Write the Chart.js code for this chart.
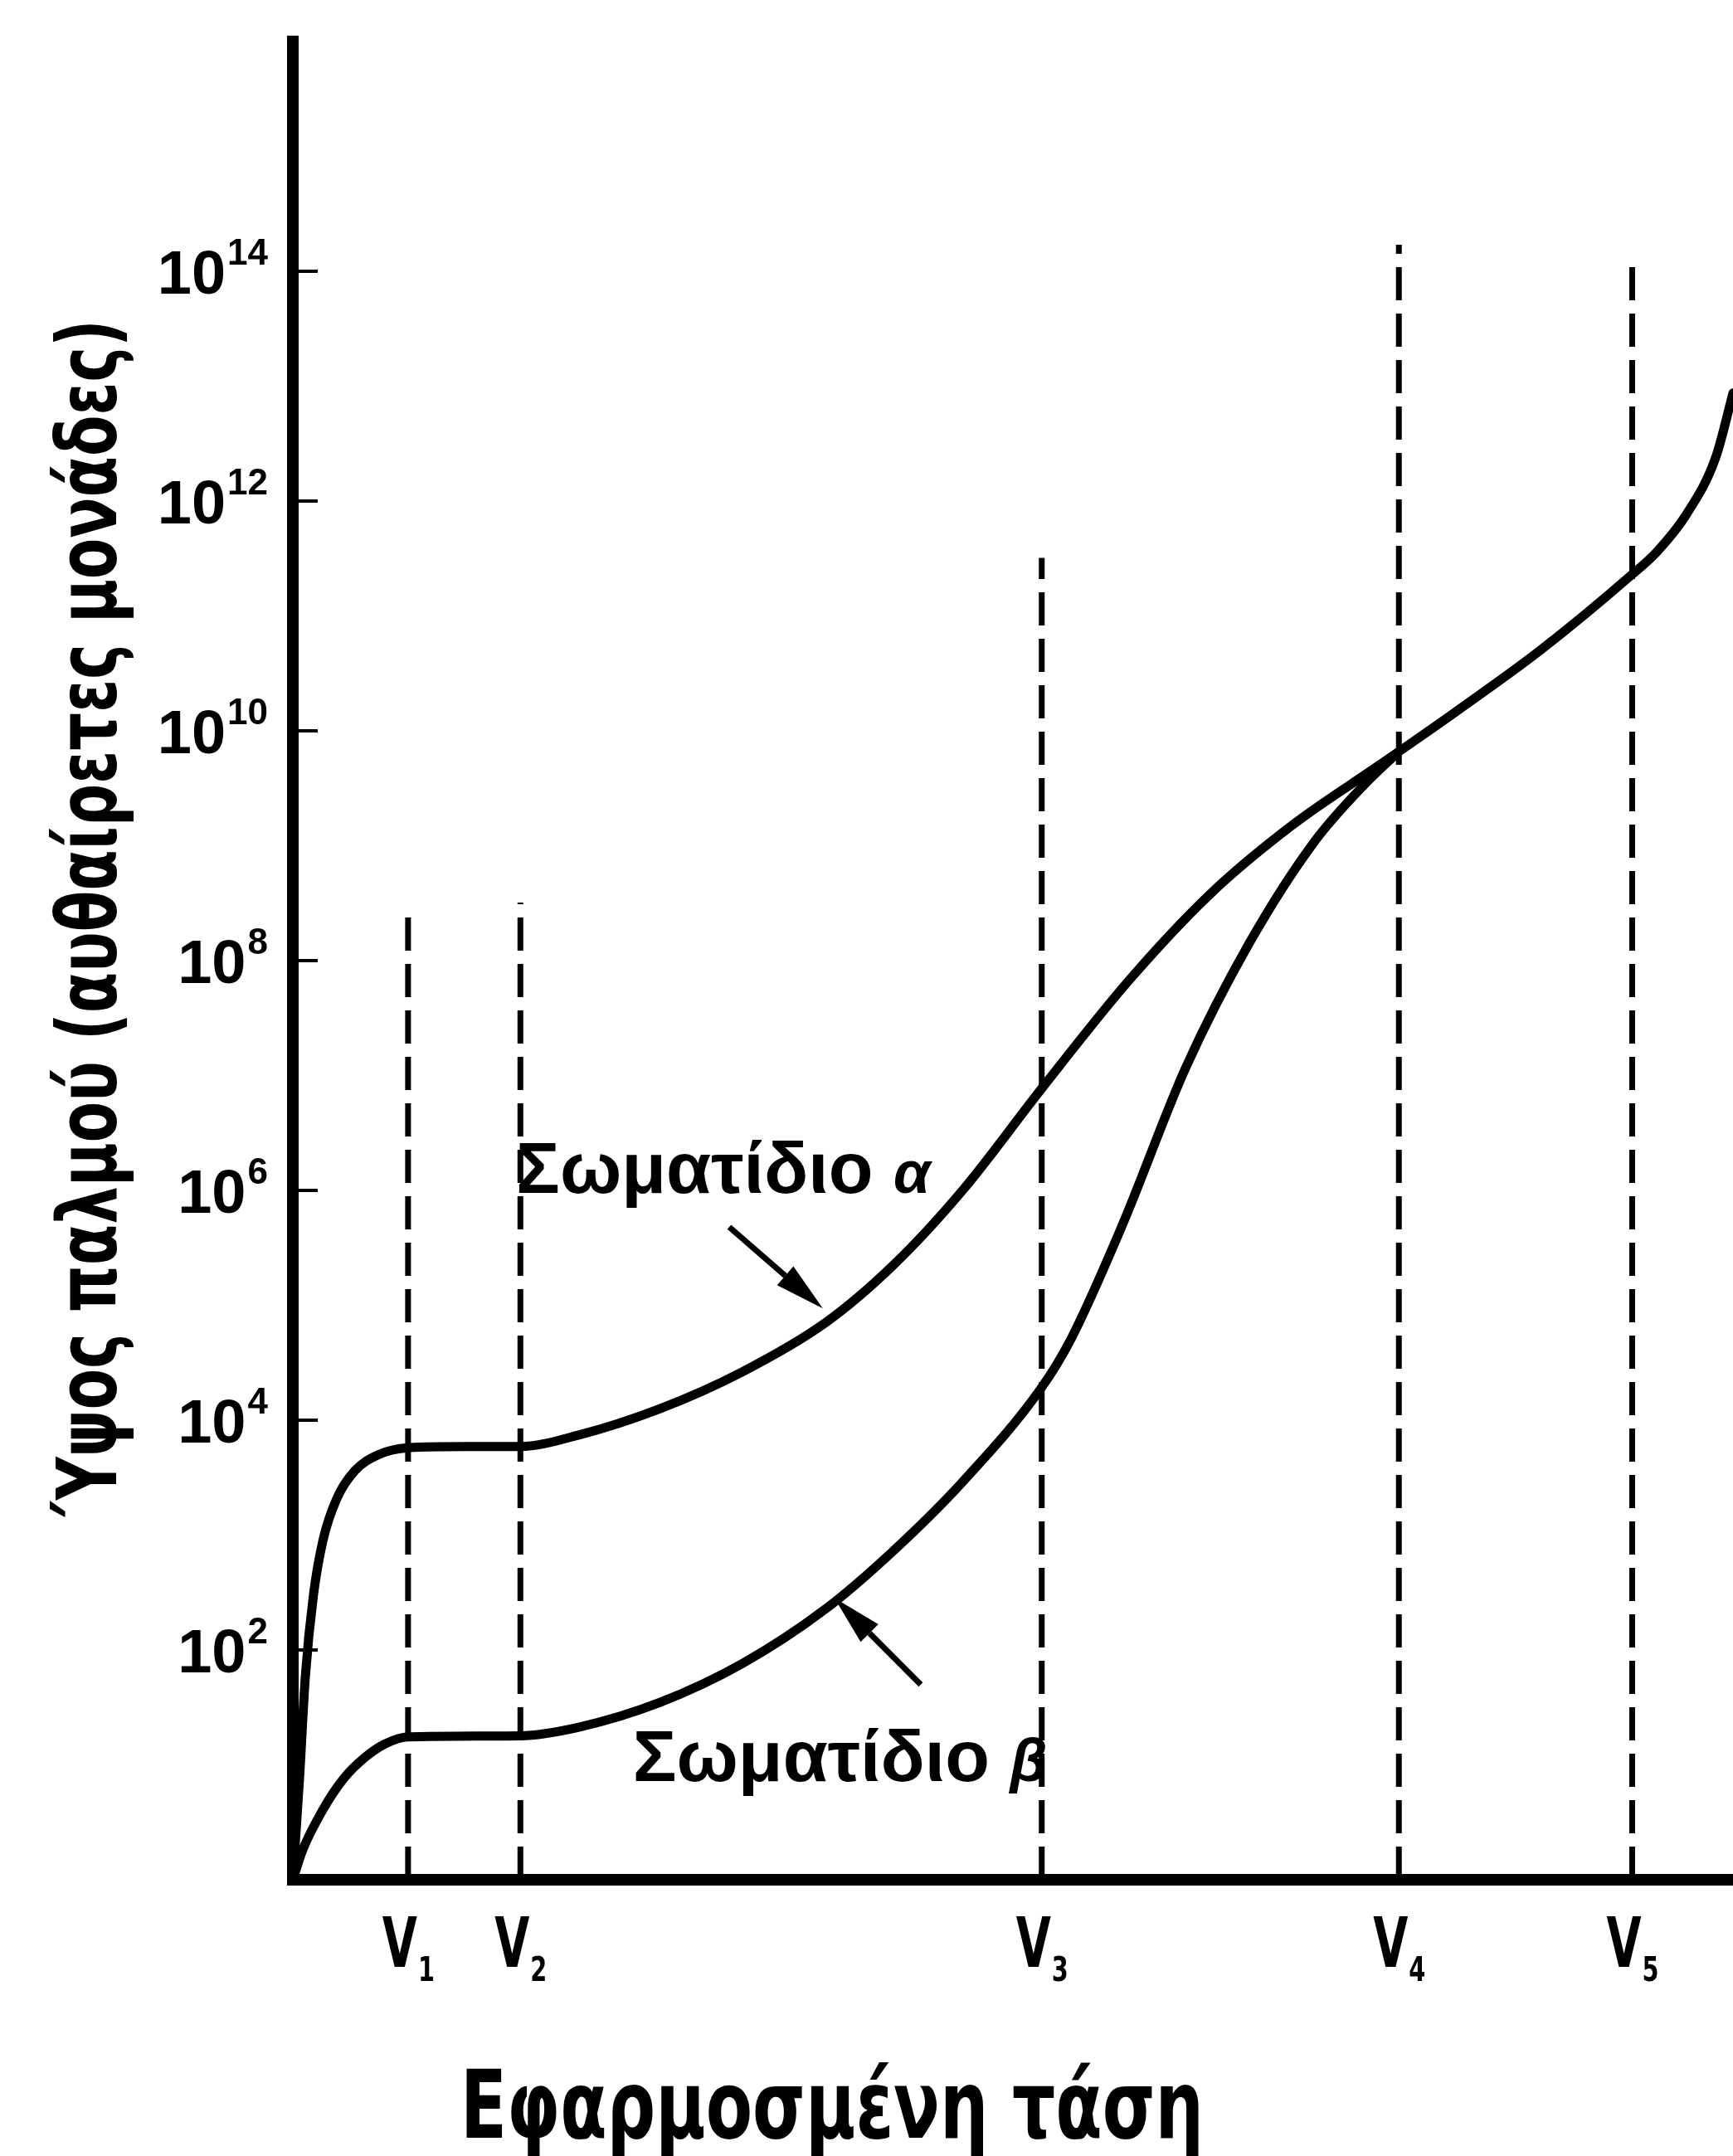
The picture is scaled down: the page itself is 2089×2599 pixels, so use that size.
<!DOCTYPE html>
<html>
<head>
<meta charset="utf-8">
<script src="https://cdn.jsdelivr.net/npm/chart.js@4.4.1/dist/chart.umd.min.js"></script>
<style>
  html, body { margin: 0; padding: 0; background: #fff; }
  #wrap { width: 2089px; height: 2599px; }
</style>
</head>
<body>
<div id="wrap"><canvas id="chart" width="2089" height="2599"></canvas></div>
<script>
// -- Data (x in arbitrary voltage units 0..100, y in arbitrary pulse units) --
const alphaX = [0, 0.48, 0.86, 1.43, 2.1, 3.06, 4.3, 5.92, 8.02, 12.1, 15.76, 19.8, 25.5, 31.2, 37.0, 41.7, 46.5, 51.96, 58.0, 63.7, 69.4, 75.2, 76.8, 80.9, 86.6, 93.0, 94.7, 96.75, 98.8, 100];
const alphaY = [1, 8.3, 57, 300, 910, 2090, 3630, 5000, 5760, 5900, 5900, 7400, 12600, 26300, 70800, 2.24e5, 1e6, 7.6e6, 6.6e7, 3.8e8, 1.51e9, 4.8e9, 6.6e9, 1.51e10, 5.0e10, 2.3e11, 3.6e11, 7.6e11, 2.4e12, 8.7e12];

const betaX = [0, 0.67, 2.1, 3.53, 4.97, 6.4, 8.02, 15.76, 19.8, 25.5, 31.2, 37.0, 41.7, 46.5, 51.96, 54.0, 57.6, 62.0, 66.4, 70.9, 74.4, 76.8];
const betaY = [1, 1.8, 4.1, 7.6, 11.5, 15.2, 17.5, 17.9, 21.2, 35, 76, 228, 730, 2900, 19000, 5e4, 5e5, 1.17e7, 1.41e8, 1.07e9, 3.4e9, 6.6e9];

const vSubs = ['1', '2', '3', '4', '5'];
const vPositions = [8.0, 15.8, 52.0, 76.8, 93.0];
const vLineTops = [3.0e8, 3.2e8, 3.2e11, 1.7e14, 1.26e14];

const yTickValues = [1e2, 1e4, 1e6, 1e8, 1e10, 1e12, 1e14];
const yTickExps = ['2', '4', '6', '8', '10', '12', '14'];

const alphaArrow = [{ x: 30.3, y: 4.8e5 }, { x: 36.8, y: 9.4e4 }];
const betaArrow = [{ x: 43.6, y: 50 }, { x: 37.6, y: 284 }];

const curveLabels = [
    { x: 15.5, y: 9.5e5, text: 'Σωματίδιο ', sym: 'α' },
    { x: 23.6, y: 7.2, text: 'Σωματίδιο ', sym: 'β' }
];

const yTitle = 'Ύψος παλμού (αυθαίρετες μονάδες)';
const xTitle = 'Εφαρμοσμένη τάση';

const FONT = '"Liberation Sans", Arial, sans-serif';
const NARROW = '"DejaVu Sans Condensed", "DejaVu Sans", sans-serif';

// -- Datasets --
const toPoints = (xs, ys) => xs.map((x, i) => ({ x: x, y: ys[i] }));

const curveStyle = {
    borderColor: '#000',
    borderWidth: 11,
    pointRadius: 0,
    fill: false,
    cubicInterpolationMode: 'monotone',
    borderCapStyle: 'round',
    borderJoinStyle: 'round'
};

const datasets = [
    Object.assign({ label: 'alpha', data: toPoints(alphaX, alphaY) }, curveStyle),
    Object.assign({ label: 'beta', data: toPoints(betaX, betaY) }, curveStyle)
];

vPositions.forEach((v, i) => {
    datasets.push({
        label: 'V' + vSubs[i],
        data: [{ x: v, y: 1 }, { x: v, y: vLineTops[i] }],
        borderColor: '#000',
        borderWidth: 7,
        borderDash: [40, 16],
        pointRadius: 0,
        fill: false
    });
});

// -- Drawing helpers --
function drawArrow(ctx, x1, y1, x2, y2) {
    const ang = Math.atan2(y2 - y1, x2 - x1);
    const headLen = 60, headW = 15;
    const bx = x2 - Math.cos(ang) * headLen;
    const by = y2 - Math.sin(ang) * headLen;
    ctx.beginPath();
    ctx.moveTo(x1, y1);
    ctx.lineTo(bx, by);
    ctx.lineWidth = 7;
    ctx.stroke();
    ctx.beginPath();
    ctx.moveTo(x2, y2);
    ctx.lineTo(bx + Math.sin(ang) * headW, by - Math.cos(ang) * headW);
    ctx.lineTo(bx - Math.sin(ang) * headW, by + Math.cos(ang) * headW);
    ctx.closePath();
    ctx.fill();
}

// text squeezed horizontally, anchored at x (align: 'left' | 'center')
function narrowText(ctx, text, x, y, sx, align) {
    const w = ctx.measureText(text).width * sx;
    ctx.save();
    ctx.translate(align === 'center' ? x - w / 2 : x, y);
    ctx.scale(sx, 1);
    ctx.textAlign = 'left';
    ctx.fillText(text, 0, 0);
    ctx.restore();
    return w;
}

const annotations = {
    id: 'annotations',
    afterDraw(chart) {
        const ctx = chart.ctx;
        const xs = chart.scales.x;
        const ys = chart.scales.y;
        const left = chart.chartArea.left;
        ctx.save();
        ctx.fillStyle = '#000';
        ctx.strokeStyle = '#000';
        ctx.textAlign = 'left';
        ctx.textBaseline = 'alphabetic';

        // y ticks (inward) and power-of-ten labels
        yTickValues.forEach((v, i) => {
            const py = ys.getPixelForValue(v);
            ctx.beginPath();
            ctx.moveTo(left, py);
            ctx.lineTo(left + 30, py);
            ctx.lineWidth = 4;
            ctx.stroke();

            ctx.font = 'bold 74px ' + FONT;
            const wb = ctx.measureText('10').width;
            ctx.font = 'bold 44px ' + FONT;
            const we = ctx.measureText(yTickExps[i]).width;
            const x0 = 323 - we - wb - 2;
            ctx.font = 'bold 74px ' + FONT;
            ctx.fillText('10', x0, py + 27);
            ctx.font = 'bold 44px ' + FONT;
            ctx.fillText(yTickExps[i], x0 + wb + 2, py - 8);
        });

        // V labels under the x axis
        vPositions.forEach((v, i) => {
            const px = xs.getPixelForValue(v);
            ctx.font = 'bold 84px ' + NARROW;
            const wv = ctx.measureText('V').width * 0.72;
            ctx.font = 'bold 40px ' + NARROW;
            const ws = ctx.measureText(vSubs[i]).width * 0.8;
            const x0 = px - (wv + ws) / 2;
            ctx.font = 'bold 84px ' + NARROW;
            narrowText(ctx, 'V', x0, 2371, 0.72, 'left');
            ctx.font = 'bold 40px ' + NARROW;
            narrowText(ctx, vSubs[i], x0 + wv + 1, 2388, 0.8, 'left');
        });

        // arrows
        [alphaArrow, betaArrow].forEach(a => {
            drawArrow(ctx,
                xs.getPixelForValue(a[0].x), ys.getPixelForValue(a[0].y),
                xs.getPixelForValue(a[1].x), ys.getPixelForValue(a[1].y));
        });

        // curve labels
        curveLabels.forEach(l => {
            const px = xs.getPixelForValue(l.x);
            const py = ys.getPixelForValue(l.y);
            ctx.font = 'bold 88px ' + FONT;
            ctx.fillText(l.text, px, py);
            const w = ctx.measureText(l.text).width;
            ctx.font = 'italic bold 72px ' + FONT;
            ctx.fillText(l.sym, px + w, py);
        });

        // axis titles
        ctx.font = 'bold 100px ' + NARROW;
        ctx.save();
        ctx.translate(140, 1106);
        ctx.rotate(-Math.PI / 2);
        narrowText(ctx, yTitle, 0, 0, 0.8, 'center');
        ctx.restore();

        ctx.font = 'bold 114px ' + NARROW;
        narrowText(ctx, xTitle, 1003, 2577, 0.8, 'center');

        ctx.restore();
    }
};

// -- Chart --
new Chart(document.getElementById('chart').getContext('2d'), {
    type: 'line',
    data: { datasets: datasets },
    options: {
        responsive: false,
        animation: false,
        devicePixelRatio: 1,
        layout: { padding: { top: 50, right: 0, left: 0, bottom: 0 } },
        plugins: {
            legend: { display: false },
            tooltip: { enabled: false }
        },
        scales: {
            x: {
                type: 'linear',
                min: 0,
                max: 100,
                grid: { display: false },
                ticks: { display: false },
                border: { display: true, color: '#000', width: 14 },
                afterFit: s => { s.height = 333; }
            },
            y: {
                type: 'logarithmic',
                min: 1,
                max: 1e16,
                grid: { display: false },
                ticks: { display: false },
                border: { display: true, color: '#000', width: 14 },
                afterFit: s => { s.width = 353; }
            }
        }
    },
    plugins: [annotations]
});
</script>
</body>
</html>
